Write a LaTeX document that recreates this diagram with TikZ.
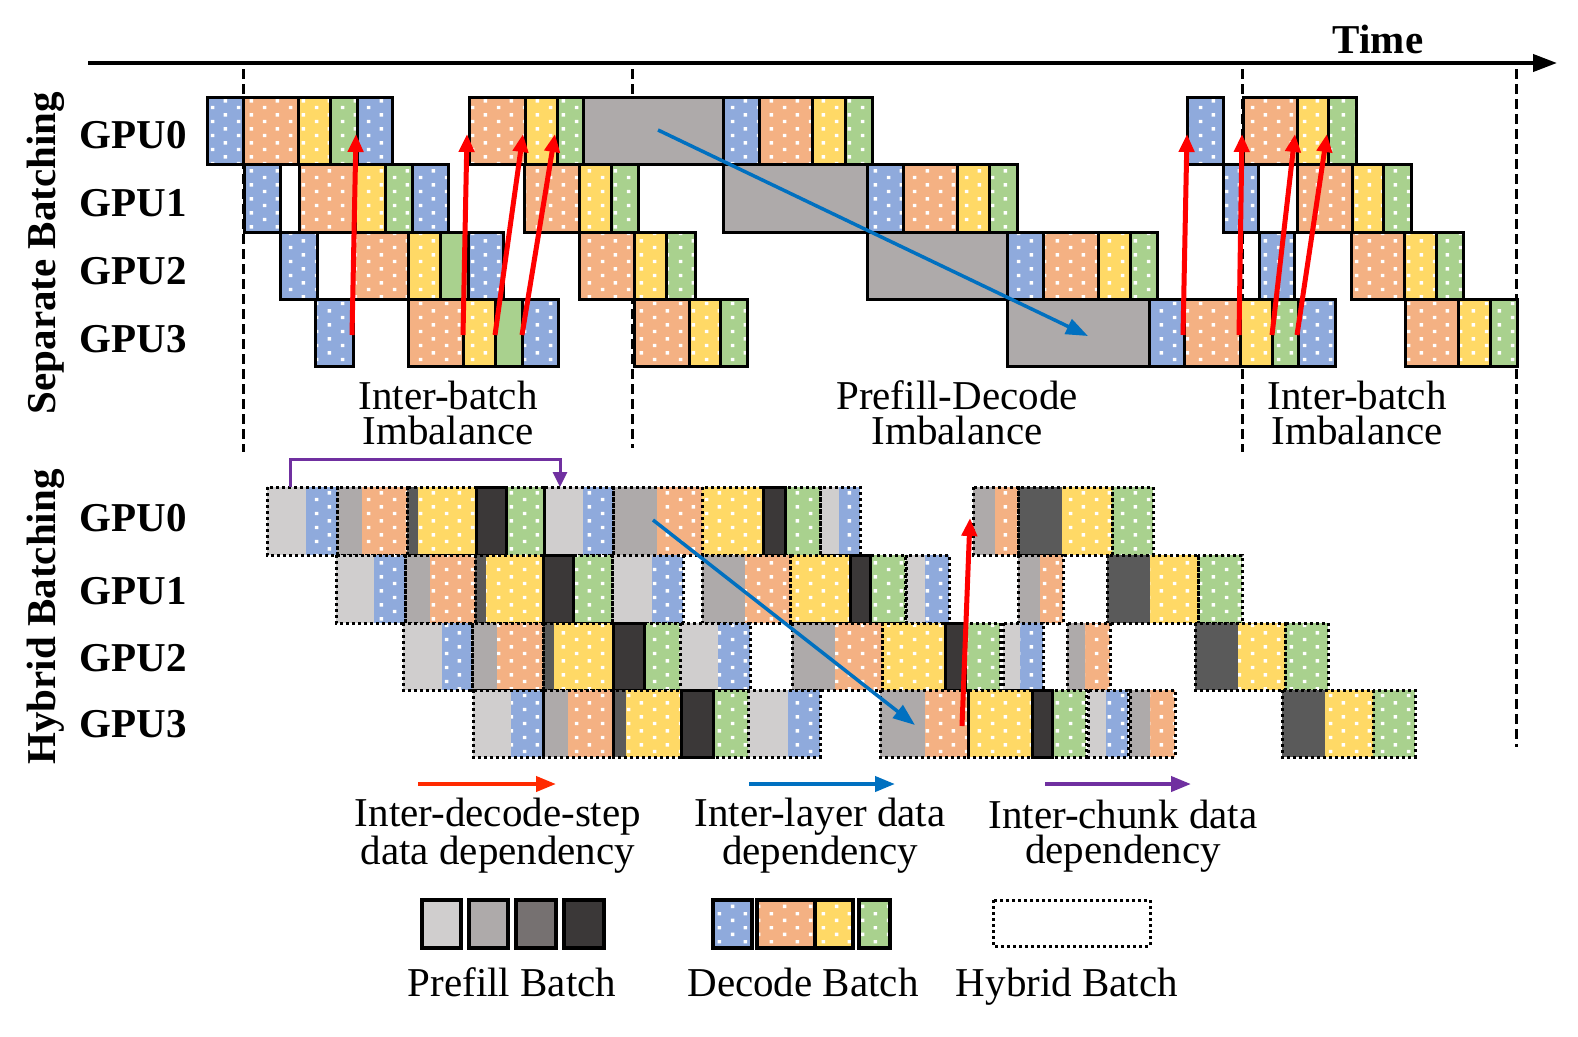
\documentclass[tikz,border=0pt]{standalone}
\usepackage{fontspec}
\setmainfont{Liberation Serif}
\usetikzlibrary{arrows.meta,patterns.meta}
\definecolor{cB}{HTML}{8FAADC}
\definecolor{cO}{HTML}{F4B183}
\definecolor{cY}{HTML}{FFD966}
\definecolor{cG}{HTML}{A9D18E}
\definecolor{cL}{HTML}{D0CECE}
\definecolor{cM}{HTML}{AEAAAA}
\definecolor{cT}{HTML}{767171}
\definecolor{cD}{HTML}{5A5A5A}
\definecolor{cV}{HTML}{3B3838}
\definecolor{aR}{HTML}{FF0000}
\definecolor{aR2}{HTML}{FF2A00}
\definecolor{aB}{HTML}{0070C0}
\definecolor{aP}{HTML}{7030A0}
\pgfdeclarepattern{
  name=wdots, type=uncolored,
  bottom left={\pgfpoint{0pt}{0pt}},
  top right={\pgfpoint{26pt}{14pt}},
  tile size={\pgfpoint{26pt}{14pt}},
  code={\pgfpathrectangle{\pgfpoint{3pt}{3pt}}{\pgfpoint{3.6pt}{3.6pt}}
        \pgfpathrectangle{\pgfpoint{16pt}{10pt}}{\pgfpoint{3.6pt}{3.6pt}}
        \pgfusepath{fill}}
}
\newcommand\toprow[3]{%
  \foreach \s/\a/\b in {#3}{\edef\tmp{\noexpand\path[\s] (\a,#1) rectangle (\b,#2);}\tmp}
  \foreach \s/\a/\b in {#3}{\draw[line width=3pt] (\a,#1) rectangle (\b,#2);}
}
\newcommand\hybrow[5]{%
  \foreach \s/\a/\b in {#3}{\edef\tmp{\noexpand\path[\s] (\a,#1) rectangle (\b,#2);}\tmp}
  \foreach \a/\b in {#4}{\draw[hybbox] (\a,#1) rectangle (\b,#2);}
  \foreach \a/\b in {#5}{\draw[line width=3pt] (\a,#1) rectangle (\b,#2);}
}
\begin{document}
\begin{tikzpicture}[x=1pt,y=-1pt,
  wd/.style={postaction={pattern=wdots,pattern color=white}},
  sB/.style={fill=cB,wd}, sO/.style={fill=cO,wd}, sY/.style={fill=cY,wd},
  sG/.style={fill=cG,wd}, sg/.style={fill=cG},
  sK/.style={fill=cM}, sL/.style={fill=cL}, sM/.style={fill=cM},
  sT/.style={fill=cT}, sD/.style={fill=cD}, sV/.style={fill=cV},
  hybbox/.style={draw=black,line width=3pt,dash pattern=on 3pt off 3pt},
  vdash/.style={draw=black,line width=3pt,dash pattern=on 10pt off 5pt},
  redarr/.style={draw=aR,line width=5pt,-{Triangle[length=18pt,width=15pt]}},
  bluearr/.style={draw=aB,line width=3.5pt,-{Triangle[length=22pt,width=16pt]}},
  purparr/.style={draw=aP,line width=3pt,-{Triangle[length=15pt,width=14pt]}},
  lab/.style={font=\fontsize{41}{35}\selectfont,align=center,inner sep=0pt},
  blab/.style={font=\fontsize{41}{35}\selectfont\bfseries,inner sep=0pt}]
\useasboundingbox (0,0) rectangle (1578,1036);

% time axis
\coordinate (ax0) at (88,63);
\coordinate (ax1) at (1557,63);
\draw[line width=4pt,-{Triangle[length=24pt,width=17pt]}] (ax0) -- (ax1);
\node[blab,anchor=base] (time) at (1378,53) {Time};

% dashed separators
\draw[vdash] (243,69) -- (243,452);
\draw[vdash] (632,69) -- (632,448);
\draw[vdash] (1242,69) -- (1242,452);
\draw[vdash] (1516,69) -- (1516,747);

% side labels
\node[blab,rotate=90] (sep) at (46,253) {Separate Batching};
\node[blab,rotate=90] (hyb) at (46,617) {Hybrid Batching};
\foreach \n/\y in {0/148,1/216,2/284,3/352}{\node[blab,anchor=base] (tg\n) at (133,\y) {GPU\n};}
\foreach \n/\y in {0/531,1/604,2/671,3/737}{\node[blab,anchor=base] (bg\n) at (133,\y) {GPU\n};}

% separate batching
\toprow{97}{164}{sB/207/243, sO/243/298, sY/298/330, sG/330/357, sB/357/392, sO/469/525, sY/525/557, sG/557/583, sK/583/723, sB/723/759, sO/759/812, sY/812/845, sG/845/872, sB/1187/1223, sO/1243/1297, sY/1297/1328, sG/1328/1356}
\toprow{164}{232}{sB/244/280, sO/299/355, sY/355/385, sG/385/412, sB/412/448, sO/524/579, sY/579/611, sG/611/638, sK/723/867, sB/867/903, sO/903/957, sY/957/989, sG/989/1017, sB/1223/1258, sO/1297/1352, sY/1352/1383, sG/1383/1411}
\toprow{232}{299}{sB/280/317, sO/353/408, sY/408/440, sg/440/468, sB/468/503, sO/579/634, sY/634/666, sG/666/695, sK/867/1007, sB/1007/1043, sO/1043/1098, sY/1098/1130, sG/1130/1157, sB/1259/1294, sO/1351/1404, sY/1404/1436, sG/1436/1463}
\toprow{299}{366}{sB/315/353, sO/408/463, sY/463/495, sg/495/522, sB/522/558, sO/634/689, sY/689/720, sG/720/747, sK/1007/1149, sB/1149/1184, sO/1184/1240, sY/1240/1272, sG/1272/1298, sB/1298/1335, sO/1405/1458, sY/1458/1490, sG/1490/1517}

% hybrid batching
\hybrow{487}{555}{sL/267/306, sB/306/337, sM/337/362, sO/362/407, sD/407/418, sY/418/476, sV/476/506, sG/506/544, sL/544/583, sB/583/613, sM/613/657, sO/657/702, sY/702/763, sV/763/785, sG/785/820, sL/820/839, sB/839/860, sM/973/995, sO/995/1018, sD/1018/1062, sY/1062/1112, sG/1112/1153}
  {267/337, 337/407, 407/476, 476/544, 544/613, 613/702, 702/763, 763/820, 820/860, 973/1018, 1018/1112, 1112/1153}
  {476/506, 763/785}
\hybrow{555}{623}{sL/336/374, sB/374/405, sM/405/430, sO/430/475, sD/475/486, sY/486/543, sV/543/573, sG/573/612, sL/612/652, sB/652/683, sM/702/745, sO/745/790, sY/790/850, sV/850/870, sG/870/905, sL/906/925, sB/925/949, sM/1018/1040, sO/1040/1063, sD/1107/1150, sY/1150/1198, sG/1198/1242}
  {336/405, 405/475, 475/543, 543/612, 612/683, 702/790, 790/850, 850/905, 906/949, 1018/1063, 1107/1198, 1198/1242}
  {543/573, 850/870}
\hybrow{623}{690}{sL/403/442, sB/442/472, sM/472/497, sO/497/543, sD/543/554, sY/554/613, sV/613/644, sG/644/680, sL/680/718, sB/718/750, sM/792/835, sO/835/882, sY/882/945, sV/945/965, sG/965/1000, sL/1003/1020, sB/1020/1043, sM/1067/1085, sO/1085/1110, sD/1195/1238, sY/1238/1285, sG/1285/1328}
  {403/472, 472/543, 543/613, 613/680, 680/750, 792/882, 882/945, 945/1000, 1003/1043, 1067/1110, 1195/1285, 1285/1328}
  {613/644, 945/965}
\hybrow{690}{757}{sL/473/511, sB/511/543, sM/543/568, sO/568/613, sD/613/626, sY/626/681, sV/681/713, sG/713/748, sL/748/788, sB/788/820, sM/880/925, sO/925/968, sY/968/1032, sV/1032/1052, sG/1052/1086, sL/1088/1106, sB/1106/1128, sM/1130/1150, sO/1150/1175, sD/1282/1325, sY/1325/1373, sG/1373/1415}
  {473/543, 543/613, 613/681, 681/748, 748/820, 880/968, 968/1032, 1032/1086, 1088/1128, 1130/1175, 1282/1373, 1373/1415}
  {681/713, 1032/1052}

% red arrows (inter-decode-step)
\foreach \i/\xa/\xb in {1/352/356, 2/463/467, 3/495/523, 4/522/555, 5/1183/1187, 6/1239/1242, 7/1272/1295, 8/1297/1327}{
  \coordinate (rs\i) at (\xa,335);
  \coordinate (re\i) at (\xb,134);
  \draw[redarr] (rs\i) -- (re\i);
}
\coordinate (rs9) at (962,726);
\coordinate (re9) at (970,518);
\draw[redarr] (rs9) -- (re9);

% blue arrows (inter-layer)
\coordinate (bs1) at (658,130);
\coordinate (be1) at (1088,336);
\draw[bluearr] (bs1) -- (be1);
\coordinate (bs2) at (653,520);
\coordinate (be2) at (915,725);
\draw[bluearr] (bs2) -- (be2);

% purple arrow (inter-chunk)
\coordinate (ps) at (290,487);
\coordinate (pe) at (560,487);
\draw[purparr] (ps) -- ++(0,-28) -| (pe);

% region labels
\node[lab] (ib1) at (448,413) {Inter-batch\\Imbalance};
\node[lab] (pdi) at (957,413) {Prefill-Decode\\Imbalance};
\node[lab] (ib2) at (1357,413) {Inter-batch\\Imbalance};

% legend arrows
\coordinate (lr0) at (418,784); \coordinate (lr1) at (556,784);
\draw[draw=aR2,line width=4pt,-{Triangle[length=20pt,width=15pt]}] (lr0) -- (lr1);
\coordinate (lb0) at (749,784); \coordinate (lb1) at (895,784);
\draw[draw=aB,line width=4pt,-{Triangle[length=20pt,width=15pt]}] (lb0) -- (lb1);
\coordinate (lp0) at (1045,784); \coordinate (lp1) at (1191,784);
\draw[draw=aP,line width=4pt,-{Triangle[length=20pt,width=15pt]}] (lp0) -- (lp1);
\node[lab] (l1) at (498,836) {Inter-decode-step\\data dependency};
\node[lab] (l2) at (820,836) {Inter-layer data\\dependency};
\node[lab] (l3) at (1123,836) {Inter-chunk data\\dependency};

% legend boxes
\foreach \s/\a/\b in {sL/422/461, sM/469/508, sT/516/556, sV/564/604, sB/713/752, sO/757/815, sY/815/853, sG/859/890}{
  \edef\tmp{\noexpand\path[\s] (\a,900) rectangle (\b,948);}\tmp
  \draw[line width=3.5pt] (\a,900) rectangle (\b,948);
}
\draw[hybbox] (993,900) rectangle (1150,946);
\node[lab,anchor=base] (lgp) at (512,996) {Prefill Batch};
\node[lab,anchor=base] (lgd) at (803,996) {Decode Batch};
\node[lab,anchor=base] (lgh) at (1067,996) {Hybrid Batch};
\end{tikzpicture}
\end{document}
